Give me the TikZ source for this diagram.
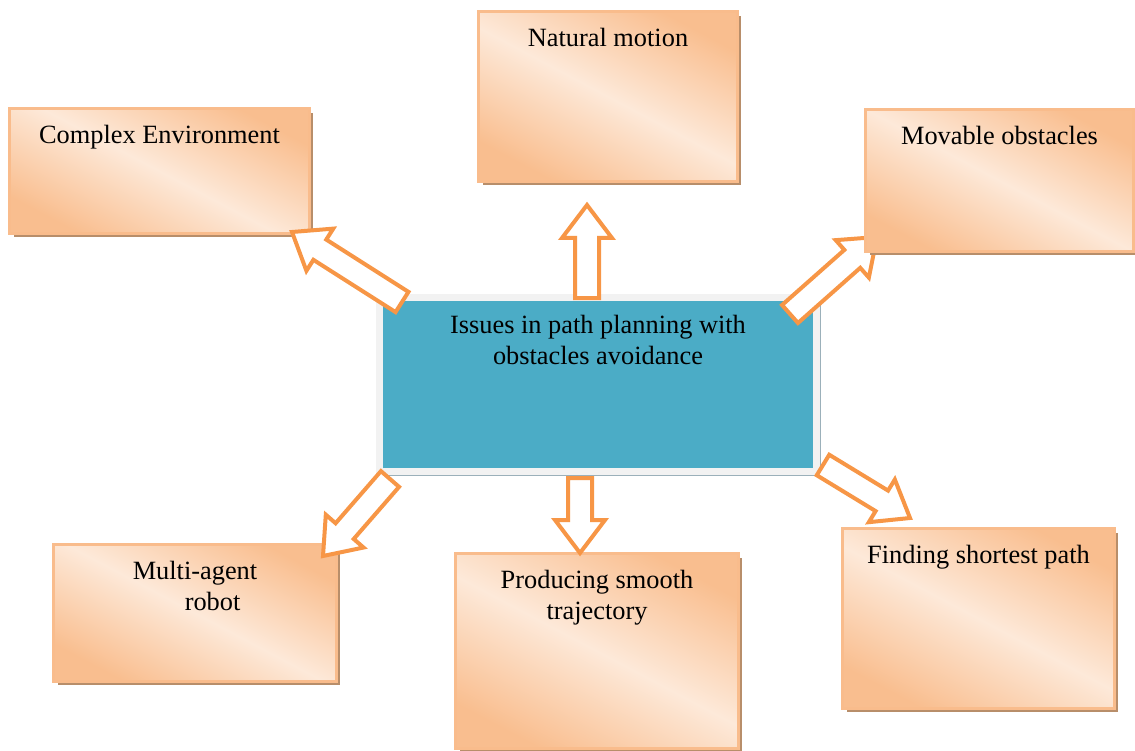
\documentclass[tikz,border=0pt]{standalone}
\usepackage{fontspec}
\setmainfont{Liberation Serif}
\usepackage{tikz}
\usetikzlibrary{positioning, calc, shadows}
\usepackage{xcolor}

\definecolor{boxdark}{HTML}{F9BE8F}
\definecolor{boxlight}{HTML}{FDE9D9}
\definecolor{boxrim}{HTML}{F9BC8C}
\definecolor{boxshadow}{HTML}{B88E6A}
\definecolor{hubteal}{HTML}{4BACC6}
\definecolor{hubrim}{HTML}{F2F2F2}
\definecolor{hubshadow}{HTML}{9BB0BA}
\definecolor{arroworange}{HTML}{F79646}

% hollow block arrow from #1 (tail) to #2 (tip)
\newcommand{\hollowarrow}[2]{%
  \coordinate (ahead) at ($(#2)!0.66cm!(#1)$);
  \draw[blockarrow] ($(#1)!0.24cm!90:(#2)$) -- ($(ahead)!0.24cm!-90:(#1)$)
    -- ($(ahead)!0.5cm!-90:(#1)$) -- (#2) -- ($(ahead)!0.5cm!90:(#1)$)
    -- ($(ahead)!0.24cm!90:(#1)$) -- ($(#1)!0.24cm!-90:(#2)$) -- cycle;
}

\begin{document}
\begin{tikzpicture}[
    x=0.02cm, y=-0.02cm,
    issuebox/.style={draw=boxrim, line width=0.06cm, top color=boxdark, bottom color=boxdark,
        middle color=boxlight, shading angle=-28,
        drop shadow={shadow xshift=0.08cm, shadow yshift=-0.08cm, fill=boxshadow, opacity=1}},
    hubbox/.style={draw=hubrim, line width=0.14cm, fill=hubteal,
        drop shadow={shadow xshift=0.1cm, shadow yshift=-0.1cm, fill=hubshadow, opacity=1}},
    boxtext/.style={font=\fontsize{15}{17.6}\selectfont, align=center, inner sep=0pt},
    blockarrow/.style={draw=arroworange, fill=white, line width=0.08cm}
]
    \useasboundingbox (0,0) rectangle (1135,750);

    % Boxes
    \node[hubbox, minimum width=8.74cm, minimum height=3.48cm] (hub) at (598,384.5) {};
    \node[issuebox, minimum width=6cm, minimum height=2.5cm] (complex) at (159.5,171) {};
    \node[issuebox, minimum width=5.18cm, minimum height=3.4cm] (natural) at (608,96.5) {};
    \node[issuebox, minimum width=5.66cm, minimum height=2.74cm] (multi) at (195,613) {};
    \node[issuebox, minimum width=5.66cm, minimum height=3.9cm] (smooth) at (597,651) {};
    \node[issuebox, minimum width=5.44cm, minimum height=3.6cm] (shortest) at (978.5,618.5) {};

    % Arrows
    \coordinate (ul_tail) at (402,302);  \coordinate (ul_tip) at (292,232);
    \coordinate (up_tail) at (587,298);  \coordinate (up_tip) at (587,205);
    \coordinate (ur_tail) at (790,314);  \coordinate (ur_tip) at (877,237);
    \coordinate (dl_tail) at (390,479);  \coordinate (dl_tip) at (323,556);
    \coordinate (dn_tail) at (580,478);  \coordinate (dn_tip) at (580,553);
    \coordinate (dr_tail) at (823,465);  \coordinate (dr_tip) at (910,518);
    \foreach \a in {ul, up, ur, dl, dn, dr}
        \hollowarrow{\a_tail}{\a_tip};

    \node[issuebox, minimum width=5.36cm, minimum height=2.84cm] (movable) at (999.5,180.5) {};

    % Labels
    \node[boxtext, below=0.42cm of hub.north] (hub_text) {Issues in path planning with\\obstacles avoidance};
    \node[boxtext, below=0.35cm of complex.north] (complex_text) {Complex Environment};
    \node[boxtext, below=0.35cm of natural.north] (natural_text) {Natural motion};
    \node[boxtext, below=0.35cm of movable.north] (movable_text) {Movable obstacles};
    \node[boxtext, align=left, below=0.35cm of multi.north] (multi_text) {Multi-agent\\\hspace*{1.04cm}robot};
    \node[boxtext, below=0.35cm of smooth.north] (smooth_text) {Producing smooth\\trajectory};
    \node[boxtext, below=0.35cm of shortest.north] (shortest_text) {Finding shortest path};
\end{tikzpicture}
\end{document}
